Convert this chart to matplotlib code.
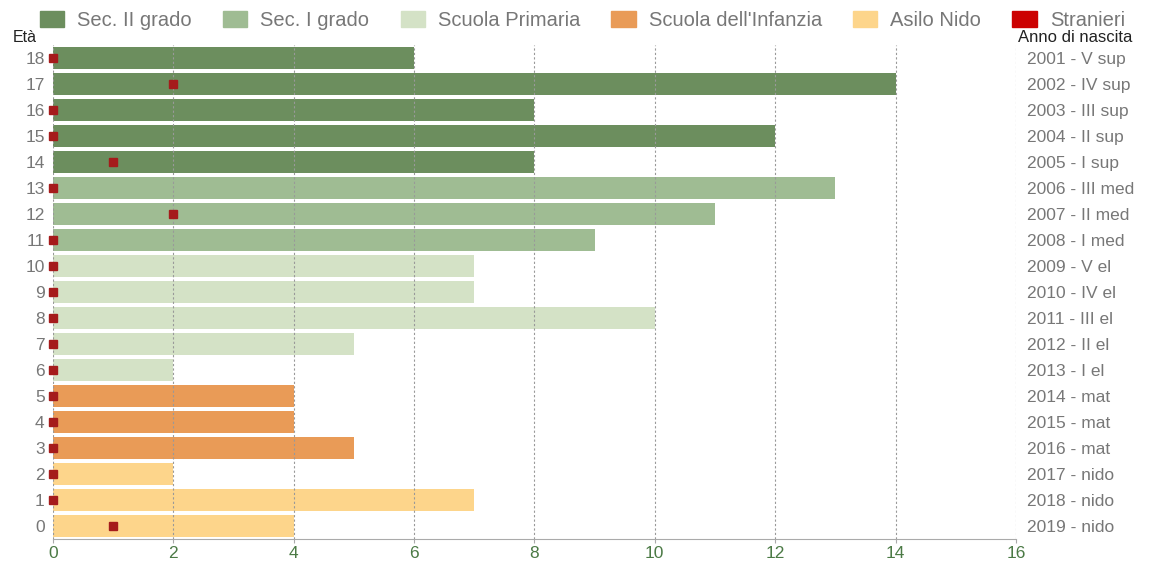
import matplotlib.pyplot as plt
from matplotlib.patches import Patch
import numpy as np

plt.rcParams['font.family'] = ['Liberation Sans', 'DejaVu Sans']

# ages 0..18
eta = list(range(19))
alunni = [4, 7, 2, 5, 4, 4, 2, 5, 10, 7, 7, 9, 11, 13, 8, 12, 8, 14, 6]
stranieri = [1, 0, 0, 0, 0, 0, 0, 0, 0, 0, 0, 0, 2, 0, 1, 0, 0, 2, 0]
anno = ['2019 - nido', '2018 - nido', '2017 - nido', '2016 - mat', '2015 - mat',
        '2014 - mat', '2013 - I el', '2012 - II el', '2011 - III el', '2010 - IV el',
        '2009 - V el', '2008 - I med', '2007 - II med', '2006 - III med',
        '2005 - I sup', '2004 - II sup', '2003 - III sup', '2002 - IV sup',
        '2001 - V sup']
gradi = ['Sec. II grado', 'Sec. I grado', 'Scuola Primaria',
         "Scuola dell'Infanzia", 'Asilo Nido']
colori = {'Sec. II grado': '#6c8e5e', 'Sec. I grado': '#9fbc93',
          'Scuola Primaria': '#d4e2c6', "Scuola dell'Infanzia": '#e99b57',
          'Asilo Nido': '#fdd58b'}


def grado(e):
    if e <= 2:
        return 'Asilo Nido'
    if e <= 5:
        return "Scuola dell'Infanzia"
    if e <= 10:
        return 'Scuola Primaria'
    if e <= 13:
        return 'Sec. I grado'
    return 'Sec. II grado'


fig = plt.figure(figsize=(11.65, 5.64), dpi=100)
ax = fig.add_axes([0.0455, 0.0443, 0.8265, 0.8757])

ax.barh(eta, alunni, height=0.86, color=[colori[grado(e)] for e in eta], zorder=1)
ax.plot(stranieri, eta, 's', color='#a51b1b', markersize=6, zorder=4, clip_on=False)

ax.set_xlim(0, 16)
ax.set_ylim(-0.5, 18.5)
ax.set_xticks(np.arange(0, 17, 2))
ax.set_yticks(eta)
ax.set_yticklabels([str(e) for e in eta])
for x in range(0, 17, 2):
    ax.axvline(x, color='#999999', lw=0.8, ls=(0, (2, 2)), zorder=3)

for s in ['top', 'right', 'left']:
    ax.spines[s].set_visible(False)
ax.spines['bottom'].set_color('#aaaaaa')
ax.tick_params(axis='x', colors='#aaaaaa', labelcolor='#4b7a45', labelsize=12.5,
               length=3, pad=2)
ax.tick_params(axis='y', length=0, labelcolor='#777777', labelsize=12.5, pad=6)

ax2 = ax.twinx()
ax2.set_ylim(ax.get_ylim())
ax2.set_yticks(eta)
ax2.set_yticklabels(anno)
ax2.tick_params(axis='y', length=0, labelcolor='#777777', labelsize=12.5, pad=8)
for s in ax2.spines.values():
    s.set_visible(False)

fig.text(0.011, 0.925, 'Età', fontsize=11.5, color='#222222', va='baseline')
fig.text(0.874, 0.925, 'Anno di nascita', fontsize=12, color='#222222', va='baseline')

handles = [Patch(color=colori[g]) for g in gradi] + [Patch(color='#cc0000')]
fig.legend(handles, gradi + ['Stranieri'], loc='center left', bbox_to_anchor=(0.0343, 0.964),
           ncol=6, frameon=False, fontsize=14.5, labelcolor='#777777',
           handlelength=1.2, handleheight=0.9, columnspacing=1.55, handletextpad=0.65,
           borderaxespad=0, borderpad=0)

fig.savefig('out.png', dpi=100)
